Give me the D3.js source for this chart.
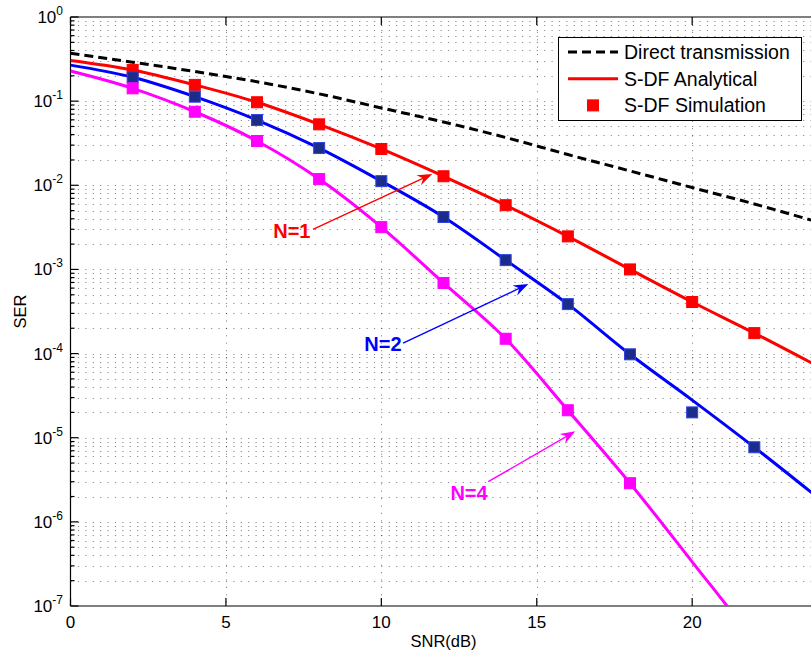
<!DOCTYPE html>
<html>
<head>
<meta charset="utf-8">
<script src="https://cdn.jsdelivr.net/npm/d3@7"></script>
<style>
  body { margin: 0; background: #fff; }
  svg { display: block; font-family: "Liberation Sans", Arial, Helvetica, sans-serif; }
</style>
</head>
<body>
<svg id="chart" width="811" height="655"></svg>
<script>
// SNR grid of the analytical curves (dB)
const snr = [0, 2, 4, 6, 8, 10, 12, 14, 16, 18, 20, 22, 24];
const directSER = [0.37, 0.29, 0.225, 0.17, 0.122, 0.083, 0.0565, 0.037, 0.0232, 0.0148, 0.0094, 0.006, 0.0037];
const analyticN1 = [0.305, 0.235, 0.156, 0.097, 0.053, 0.027, 0.0128, 0.0058, 0.00247, 0.001, 4.1e-4, 1.75e-4, 7.2e-5];
const analyticN2 = [0.268, 0.192, 0.113, 0.0596, 0.0277, 0.0112, 0.0042, 0.00129, 3.87e-4, 9.8e-5, 2.8e-5, 7.7e-6, 2.0e-6];
const analyticN4 = [0.228, 0.142, 0.0748, 0.0336, 0.01185, 0.00318, 6.9e-4, 1.5e-4, 2.12e-5, 2.88e-6, 3.35e-7, 3.8e-8, 3.5e-9];

// simulation points
const simSNR = [2, 4, 6, 8, 10, 12, 14, 16, 18, 20, 22];
const simN1 = [0.235, 0.156, 0.097, 0.053, 0.027, 0.0128, 0.0058, 0.00247, 0.001, 4.1e-4, 1.75e-4];
const simN2 = [0.192, 0.113, 0.0596, 0.0277, 0.0112, 0.0042, 0.00129, 3.87e-4, 9.8e-5, 2.0e-5, 7.7e-6];
const simN4 = [0.142, 0.0748, 0.0336, 0.01185, 0.00318, 6.9e-4, 1.5e-4, 2.12e-5, 2.88e-6];

const xTicks = [0, 5, 10, 15, 20];
const yTickExps = [0, -1, -2, -3, -4, -5, -6, -7];
const legendLabels = ["Direct transmission", "S-DF Analytical", "S-DF Simulation"];

// annotations, in data coordinates: label end, arrow tail, arrow tip
const annoLabels = ["N=1", "N=2", "N=4"];
const annoText = [[7.72, 2.9e-3], [10.65, 1.3e-4], [13.42, 2.2e-6]];
const annoTail = [[7.8, 3.0e-3], [10.7, 1.33e-4], [13.44, 3.0e-6]];
const annoTip = [[11.64, 1.36e-2], [14.73, 6.7e-4], [16.24, 1.19e-5]];

const red = "#ff0000", blue = "#0000ff", magenta = "#ff00ff";
const annoColors = [red, blue, magenta];

const svg = d3.select("#chart");
const pLeft = 70.5, pRight = 816.5, pTop = 17, pBottom = 606;

const x = d3.scaleLinear().domain([0, 24]).range([pLeft, pRight]);
const y = d3.scaleLog().domain([1e-7, 1]).range([pBottom, pTop]);

svg.append("defs").append("clipPath").attr("id", "plot")
  .append("rect").attr("x", pLeft).attr("y", pTop)
  .attr("width", pRight - pLeft).attr("height", pBottom - pTop);

// grid (dotted, major x, major+minor log y)
const minorY = [];
for (let e = -7; e < 0; e++) for (let m = 1; m < 10; m++) minorY.push(m * Math.pow(10, e));
minorY.push(1);
const isMajor = v => Math.abs(Math.log10(v) - Math.round(Math.log10(v))) < 1e-6;

const grid = svg.append("g")
  .attr("stroke", "#000").attr("stroke-opacity", 0.45)
  .attr("stroke-width", 1).attr("stroke-dasharray", "1.2,6.2");
grid.selectAll(".gy").data(minorY.filter(v => v > 1e-7 && v < 1)).join("line")
  .attr("x1", pLeft).attr("x2", pRight)
  .attr("y1", d => Math.round(y(d)) + 0.5).attr("y2", d => Math.round(y(d)) + 0.5);
grid.selectAll(".gx").data(xTicks.filter(v => v > 0)).join("line")
  .attr("x1", d => Math.round(x(d)) + 0.5).attr("x2", d => Math.round(x(d)) + 0.5)
  .attr("y1", pTop).attr("y2", pBottom);

// axes frame and ticks
const ax = svg.append("g").attr("stroke", "#000").attr("stroke-width", 1.2);
ax.append("line").attr("x1", pLeft).attr("x2", pRight).attr("y1", pBottom).attr("y2", pBottom);
ax.append("line").attr("x1", pLeft).attr("x2", pRight).attr("y1", pTop).attr("y2", pTop);
ax.append("line").attr("x1", pLeft).attr("x2", pLeft).attr("y1", pTop).attr("y2", pBottom);

ax.selectAll(".xt").data(xTicks).join("line")
  .attr("x1", d => x(d)).attr("x2", d => x(d)).attr("y1", pBottom).attr("y2", pBottom - 8);
ax.selectAll(".xtt").data(xTicks).join("line")
  .attr("x1", d => x(d)).attr("x2", d => x(d)).attr("y1", pTop).attr("y2", pTop + 8);
ax.selectAll(".yt").data(minorY).join("line")
  .attr("x1", pLeft).attr("x2", d => pLeft + (isMajor(d) ? 8 : 4))
  .attr("y1", d => y(d)).attr("y2", d => y(d));

svg.append("g").attr("font-size", 17).attr("text-anchor", "middle")
  .selectAll("text").data(xTicks).join("text")
  .attr("x", d => x(d)).attr("y", pBottom + 22).text(d => d);

const yl = svg.append("g").attr("font-size", 17).attr("text-anchor", "end")
  .selectAll("text").data(yTickExps).join("text")
  .attr("x", 63).attr("y", d => y(Math.pow(10, d)) + 6);
yl.append("tspan").text("10");
yl.append("tspan").attr("font-size", 12).attr("dy", -8).text(d => d);

svg.append("text").attr("font-size", 16.5).attr("text-anchor", "middle")
  .attr("x", (pLeft + pRight) / 2).attr("y", 647).text("SNR(dB)");
svg.append("text").attr("font-size", 16.5).attr("text-anchor", "middle")
  .attr("transform", `translate(26,${(pTop + pBottom) / 2}) rotate(-90)`).text("SER");

// curves
const line = d3.line().x(d => x(d[0])).y(d => y(d[1])).curve(d3.curveMonotoneX);
const curves = [
  { v: directSER, c: "#000", dash: "9,5" },
  { v: analyticN1, c: red },
  { v: analyticN2, c: blue },
  { v: analyticN4, c: magenta }
];
const plot = svg.append("g").attr("clip-path", "url(#plot)");
plot.selectAll("path").data(curves).join("path")
  .attr("fill", "none").attr("stroke", d => d.c).attr("stroke-width", 3)
  .attr("stroke-dasharray", d => d.dash || null)
  .attr("d", d => line(d3.zip(snr, d.v)));

const sims = [
  { v: simN1, fill: red, edge: red },
  { v: simN2, fill: "#1c2c8c", edge: "#2f43e0" },
  { v: simN4, fill: magenta, edge: magenta }
];
const ms = 11;
sims.forEach(s => {
  plot.append("g").selectAll("rect").data(d3.zip(simSNR, s.v)).join("rect")
    .attr("x", d => x(d[0]) - ms / 2).attr("y", d => y(d[1]) - ms / 2)
    .attr("width", ms).attr("height", ms)
    .attr("fill", s.fill).attr("stroke", s.edge).attr("stroke-width", 1);
});

// annotations with arrows
annoLabels.forEach((lab, i) => {
  const [x0, y0] = [x(annoTail[i][0]), y(annoTail[i][1])];
  const [x1, y1] = [x(annoTip[i][0]), y(annoTip[i][1])];
  const a = Math.atan2(y1 - y0, x1 - x0);
  const g = svg.append("g").attr("fill", annoColors[i]).attr("stroke", annoColors[i]);
  g.append("line").attr("x1", x0).attr("y1", y0)
    .attr("x2", x1 - 8 * Math.cos(a)).attr("y2", y1 - 8 * Math.sin(a)).attr("stroke-width", 1.4);
  g.append("path").attr("stroke", "none")
    .attr("transform", `translate(${x1},${y1}) rotate(${a * 180 / Math.PI})`)
    .attr("d", "M0,0L-15,-5.5L-10,0L-15,5.5Z");
  g.append("text").attr("stroke", "none").attr("font-size", 20).attr("font-weight", "bold")
    .attr("text-anchor", "end").attr("x", x(annoText[i][0])).attr("y", y(annoText[i][1]))
    .attr("dy", "0.36em").text(lab);
});

// legend
const lg = svg.append("g");
lg.append("rect").attr("x", 558.5).attr("y", 37.5).attr("width", 243).attr("height", 83)
  .attr("fill", "#fff").attr("stroke", "#000").attr("stroke-width", 1);
const rowY = i => 52 + i * 26.7;
lg.append("line").attr("x1", 568).attr("x2", 618).attr("y1", rowY(0)).attr("y2", rowY(0))
  .attr("stroke", "#000").attr("stroke-width", 3).attr("stroke-dasharray", "9,5");
lg.append("line").attr("x1", 568).attr("x2", 618).attr("y1", rowY(1)).attr("y2", rowY(1))
  .attr("stroke", red).attr("stroke-width", 3);
lg.append("rect").attr("x", 593 - ms / 2).attr("y", rowY(2) - ms / 2).attr("width", ms).attr("height", ms)
  .attr("fill", red).attr("stroke", red);
lg.selectAll("text").data(legendLabels).join("text")
  .attr("x", 624).attr("y", (d, i) => rowY(i)).attr("dy", "0.36em")
  .attr("font-size", 19.5).text(d => d);
</script>
</body>
</html>
